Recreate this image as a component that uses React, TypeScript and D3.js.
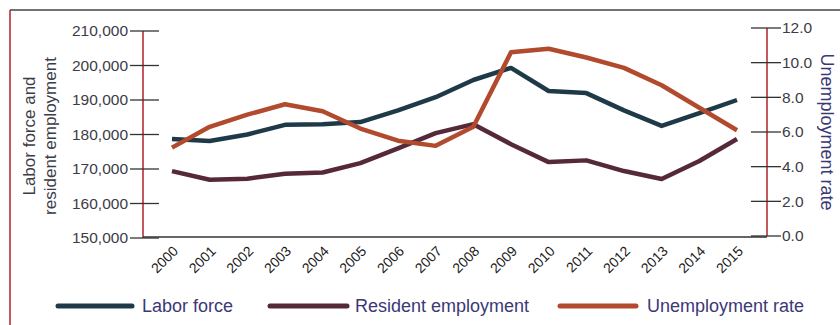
import React from "react";
import * as d3 from "d3";

const years = ["2000","2001","2002","2003","2004","2005","2006","2007","2008","2009","2010","2011","2012","2013","2014","2015"];
const laborForce = [178700,178100,180000,182800,183000,183600,187000,190800,195800,199300,192600,192000,187000,182500,186200,190000];
const residentEmployment = [169400,166900,167200,168600,169000,171700,176000,180400,183000,177200,172000,172500,169400,167100,172300,178700];
const unemploymentRate = [5.1,6.3,7.0,7.6,7.2,6.2,5.5,5.2,6.3,10.6,10.8,10.3,9.7,8.7,7.4,6.1];
const leftTicks = [150000,160000,170000,180000,190000,200000,210000];
const rightTicks = [0,2,4,6,8,10,12];

const FONT = "'Liberation Sans', Arial, sans-serif";

export default function App() {
  const x = d3.scalePoint<string>().domain(years).range([172, 737]);
  const yL = d3.scaleLinear().domain([150000, 210000]).range([238, 31]);
  const yR = d3.scaleLinear().domain([0, 12]).range([236, 28]);
  const fmt = d3.format(",");
  const lineL = (vals: number[]) =>
    d3.line<number>().x((_, i) => x(years[i]) as number).y((v) => yL(v))(vals) as string;
  const lineR = d3.line<number>().x((_, i) => x(years[i]) as number).y((v) => yR(v))(unemploymentRate) as string;

  const cLabor = "#1e3a48";
  const cRes = "#55283a";
  const cUnemp = "#b24a2e";
  const textCol = "#3c3c46";
  const titleCol = "#3b3876";

  const legend = [
    { label: "Labor force", color: cLabor, x1: 58, x2: 132, tx: 142 },
    { label: "Resident employment", color: cRes, x1: 270, x2: 347, tx: 355 },
    { label: "Unemployment rate", color: cUnemp, x1: 560, x2: 636, tx: 647 },
  ];

  return (
    <svg width={840} height={325} style={{ position: "absolute", left: 0, top: 0, background: "#fff" }} fontFamily={FONT}>
      {/* frame */}
      <line x1={10} x2={840} y1={10} y2={10} stroke="#444" strokeWidth={1.5} />
      <line x1={10} x2={10} y1={10} y2={325} stroke="#b0202a" strokeWidth={1.5} />

      {/* left axis */}
      <line x1={143} x2={143} y1={31} y2={238} stroke="#b0202a" strokeWidth={1.5} />
      {leftTicks.map((t) => (
        <g key={t}>
          <line x1={130} x2={159} y1={yL(t)} y2={yL(t)} stroke="#333" strokeWidth={1.3} />
          <text x={128} y={yL(t)} dy="0.35em" textAnchor="end" fontSize={15.5} fill={textCol}>{fmt(t)}</text>
        </g>
      ))}
      {/* right axis */}
      <line x1={767} x2={767} y1={28} y2={236} stroke="#b0202a" strokeWidth={1.5} />
      {rightTicks.map((t) => (
        <g key={t}>
          <line x1={751} x2={781} y1={yR(t)} y2={yR(t)} stroke="#333" strokeWidth={1.3} />
          <text x={782} y={yR(t)} dy="0.35em" textAnchor="start" fontSize={15.5} fill={textCol}>{t.toFixed(1)}</text>
        </g>
      ))}
      {/* bottom axis */}
      <line x1={143} x2={767} y1={237} y2={237} stroke="#333" strokeWidth={1.3} />
      {years.map((yr) => (
        <text key={yr} transform={`translate(${(x(yr) as number) + 7},${252}) rotate(-45)`} textAnchor="end" fontSize={14} fill="#1a1a1a">{yr}</text>
      ))}

      {/* axis titles */}
      <g transform="translate(35,136) rotate(-90)" fontSize={17} fill={textCol} textAnchor="middle">
        <text x={0} y={0}>Labor force and</text>
        <text x={0} y={21}>resident employment</text>
      </g>
      <text transform="translate(821,132) rotate(90)" textAnchor="middle" fontSize={18} fill={titleCol}>Unemployment rate</text>

      {/* lines */}
      <path d={lineL(laborForce)} fill="none" stroke={cLabor} strokeWidth={4.5} strokeLinejoin="round" />
      <path d={lineL(residentEmployment)} fill="none" stroke={cRes} strokeWidth={4.5} strokeLinejoin="round" />
      <path d={lineR} fill="none" stroke={cUnemp} strokeWidth={4.5} strokeLinejoin="round" />

      {/* legend */}
      {legend.map((l) => (
        <g key={l.label}>
          <line x1={l.x1} x2={l.x2} y1={306} y2={306} stroke={l.color} strokeWidth={5} strokeLinecap="round" />
          <text x={l.tx} y={306} dy="0.35em" fontSize={18} fill={titleCol}>{l.label}</text>
        </g>
      ))}
    </svg>
  );
}
